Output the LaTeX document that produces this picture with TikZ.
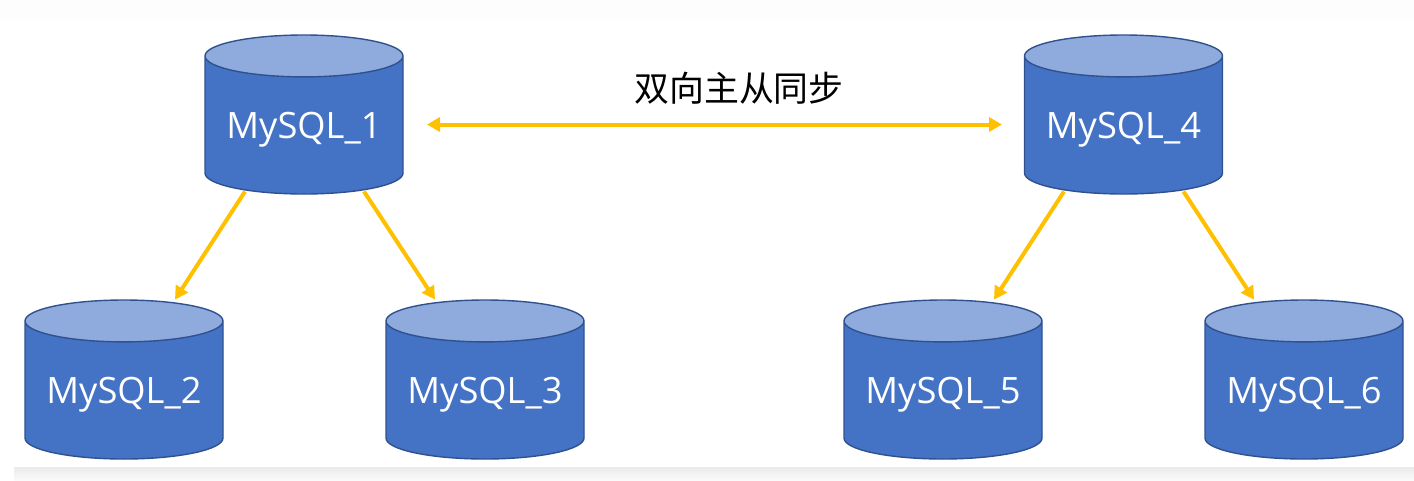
\documentclass[tikz,border=0pt]{standalone}
\usepackage{fontspec}
\setmainfont{Open Sans}
\newfontfamily\cjk{Noto Sans CJK SC}
\usetikzlibrary{shapes.geometric,arrows.meta,calc}
\definecolor{dbblue}{HTML}{4472C4}
\definecolor{dbtop}{HTML}{8FAADC}
\definecolor{dbedge}{HTML}{2F528F}
\definecolor{link}{HTML}{FFC000}
\tikzset{
  dbnode/.style={cylinder,shape border rotate=90,aspect=0.27,anchor=shape center,cylinder uses custom fill,
    cylinder body fill=dbblue,cylinder end fill=dbtop,draw=dbedge,line width=1.4pt,
    minimum width=198pt,minimum height=159pt,inner sep=0pt,outer sep=0pt,text=white,
    text height=35pt,text depth=9pt,
    font=\fontsize{36.3}{36.3}\selectfont},
  linkline/.style={draw=link,line width=4pt,-{Triangle[length=13pt,width=14pt]}},
  bothline/.style={draw=link,line width=4pt,{Triangle[length=13pt,width=14pt]}-{Triangle[length=13pt,width=14pt]}},
}
\begin{document}
\begin{tikzpicture}[x=1pt,y=-1pt]
\useasboundingbox (0,0) rectangle (1414,480);
\fill[black!0.6] (0,0) rectangle (1414,20);
\shade[top color=black!8,bottom color=black!2] (14,467) rectangle (1414,480);
\node[dbnode] (m1) at (304,114.5) {MySQL\_1};
\node[dbnode] (m2) at (124,379.5) {MySQL\_2};
\node[dbnode] (m3) at (485,379.5) {MySQL\_3};
\node[dbnode] (m4) at (1123.5,114.5) {MySQL\_4};
\node[dbnode] (m5) at (943,379.5) {MySQL\_5};
\node[dbnode] (m6) at (1304,379.5) {MySQL\_6};
\draw[bothline] ($(m1.shape center)+(123,10)$) -- ($(m4.shape center)+(-121.5,10)$);
\draw[linkline] ($(m1.shape center)+(-59,77)$) -- ($(m2.shape center)+(51,-80)$);
\draw[linkline] ($(m1.shape center)+(60,77)$) -- ($(m3.shape center)+(-50,-80)$);
\draw[linkline] ($(m4.shape center)+(-59.5,77)$) -- ($(m5.shape center)+(51,-80)$);
\draw[linkline] ($(m4.shape center)+(60,77)$) -- ($(m6.shape center)+(-50,-80)$);
\node[font=\cjk\fontsize{34.9}{34.9}\selectfont] (lbl) at (739,88) {双向主从同步};
\end{tikzpicture}
\end{document}
